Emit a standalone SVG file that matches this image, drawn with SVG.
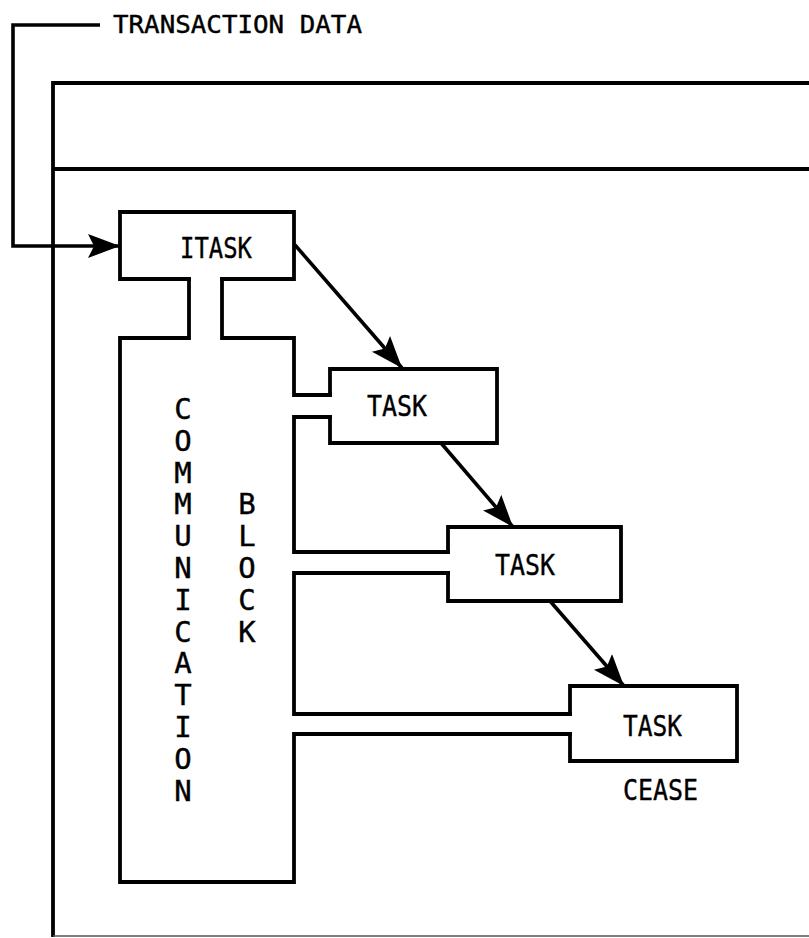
<svg xmlns="http://www.w3.org/2000/svg" width="809" height="938" viewBox="0 0 809 938">
<style>
.ln{fill:none;stroke:#000;stroke-width:3.8;stroke-linejoin:miter;stroke-linecap:square}
.fr{fill:none;stroke:#000;stroke-width:3.8}
.t{font-family:"DejaVu Sans Mono","Liberation Mono",monospace;font-size:29px;fill:#000;stroke:#000;stroke-width:0.4}
.tm{font-family:"DejaVu Sans Mono","Liberation Mono",monospace;font-size:29px;fill:#000;stroke:#000;stroke-width:0.4;text-anchor:middle}
.ts{font-family:"DejaVu Sans Mono","Liberation Mono",monospace;font-size:25px;fill:#000;stroke:#000;stroke-width:0.4}
</style>
<defs>
<marker id="ah" markerUnits="userSpaceOnUse" markerWidth="34" markerHeight="26" refX="32" refY="12" orient="auto">
<path d="M0,0 L32,12 L0,24 L6,12 Z" fill="#000"/>
</marker>
</defs>
<rect width="809" height="938" fill="#fff"/>
<g id="frame">
<path class="fr" d="M53,937 V83 H809"/>
<path class="fr" d="M53,169 H809"/>
<path d="M53,936 H809" stroke="#555" stroke-width="1.5" fill="none"/>
</g>
<g id="transaction-data">
<text class="ts" x="113" y="33" textLength="249" lengthAdjust="spacingAndGlyphs">TRANSACTION DATA</text>
</g>
<g id="itask">
<path class="ln" d="M189,279 H120 V212 H294 V279 H222"/>
<text class="t" x="180" y="258" textLength="72" lengthAdjust="spacingAndGlyphs">ITASK</text>
</g>
<g id="communication-block">
<path class="ln" d="M189,279 V338 H120 V882 H294 V734 H570 M570,714 H294 V573 H448 M448,552 H294 V417 H330 M330,395 H294 V338 H222 V279"/>
<g class="tm">
<text x="183" y="419">C</text>
<text x="183" y="450.8">O</text>
<text x="183" y="482.6">M</text>
<text x="183" y="514.4">M</text>
<text x="183" y="546.2">U</text>
<text x="183" y="578">N</text>
<text x="183" y="609.8">I</text>
<text x="183" y="641.6">C</text>
<text x="183" y="673.4">A</text>
<text x="183" y="705.2">T</text>
<text x="183" y="737">I</text>
<text x="183" y="768.8">O</text>
<text x="183" y="800.6">N</text>
<text x="247" y="514.4">B</text>
<text x="247" y="546.2">L</text>
<text x="247" y="578">O</text>
<text x="247" y="609.8">C</text>
<text x="247" y="641.6">K</text>
</g>
</g>
<g id="task1">
<path class="ln" d="M330,395 V369 H497 V443 H330 V417"/>
<text class="t" x="367" y="416" textLength="60" lengthAdjust="spacingAndGlyphs">TASK</text>
</g>
<g id="task2">
<path class="ln" d="M448,552 V527 H621 V601 H448 V573"/>
<text class="t" x="495" y="575" textLength="60" lengthAdjust="spacingAndGlyphs">TASK</text>
</g>
<g id="task3">
<path class="ln" d="M570,714 V686 H737 V761 H570 V734"/>
<text class="t" x="623" y="736" textLength="59" lengthAdjust="spacingAndGlyphs">TASK</text>
<text class="t" x="623" y="800" textLength="75" lengthAdjust="spacingAndGlyphs">CEASE</text>
</g>
<g id="connectors" fill="none" stroke="#000" stroke-width="3.6">
<path d="M100,25 H13 V246 H120" marker-end="url(#ah)"/>
<path d="M295,245 L402,368" marker-end="url(#ah)"/>
<path d="M441,443 L513,527" marker-end="url(#ah)"/>
<path d="M550,601 L624,686" marker-end="url(#ah)"/>
</g>
</svg>
